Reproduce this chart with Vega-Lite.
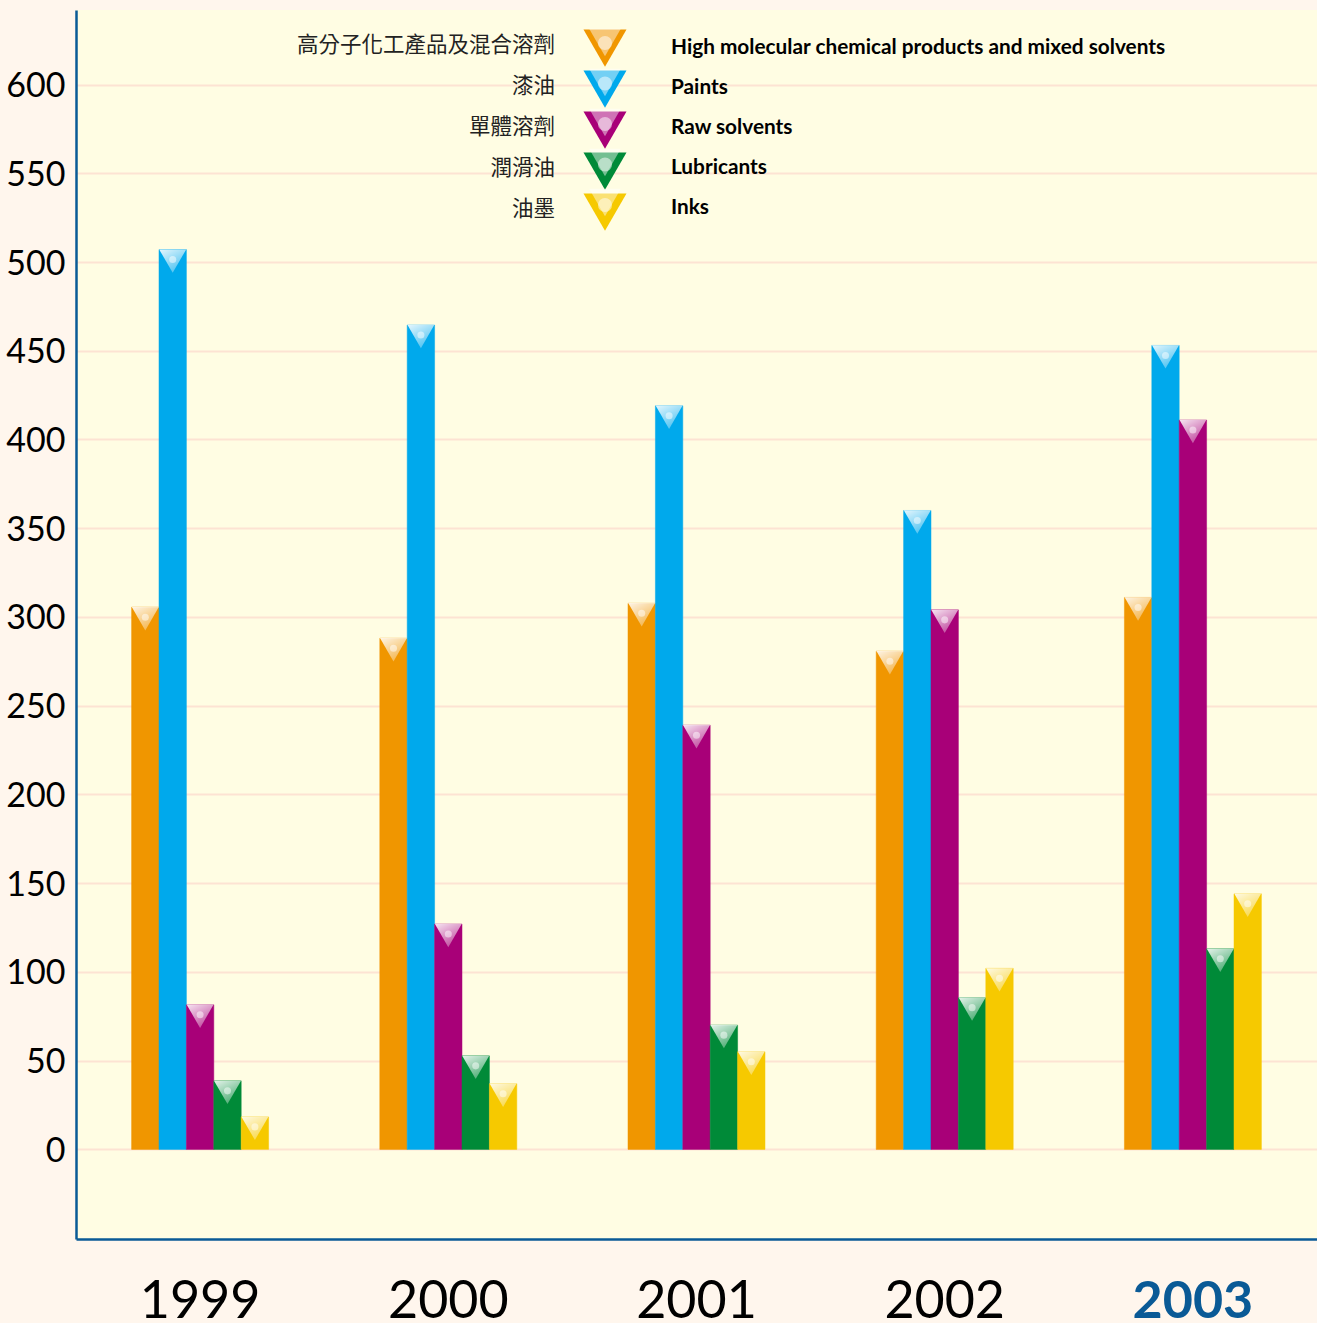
{
"$schema":"https://vega.github.io/schema/vega-lite/v6.json",
"width":1241,"height":1229,
"autosize":{"type":"none"},
"padding":{"left":76,"top":10,"right":0,"bottom":84},
"background":"#fff6ed",
"view":{"fill":"#fffde3","stroke":null},
"data":{"values":[
{"year":"1999","cn":"高分子化工產品及混合溶劑","en":"High molecular chemical products and mixed solvents","value":305.5},
{"year":"1999","cn":"漆油","en":"Paints","value":507},
{"year":"1999","cn":"單體溶劑","en":"Raw solvents","value":81.5},
{"year":"1999","cn":"潤滑油","en":"Lubricants","value":38.6},
{"year":"1999","cn":"油墨","en":"Inks","value":18.3},
{"year":"2000","cn":"高分子化工產品及混合溶劑","en":"High molecular chemical products and mixed solvents","value":288},
{"year":"2000","cn":"漆油","en":"Paints","value":464.5},
{"year":"2000","cn":"單體溶劑","en":"Raw solvents","value":127},
{"year":"2000","cn":"潤滑油","en":"Lubricants","value":52.7},
{"year":"2000","cn":"油墨","en":"Inks","value":37},
{"year":"2001","cn":"高分子化工產品及混合溶劑","en":"High molecular chemical products and mixed solvents","value":307.7},
{"year":"2001","cn":"漆油","en":"Paints","value":419},
{"year":"2001","cn":"單體溶劑","en":"Raw solvents","value":239},
{"year":"2001","cn":"潤滑油","en":"Lubricants","value":70},
{"year":"2001","cn":"油墨","en":"Inks","value":55},
{"year":"2002","cn":"高分子化工產品及混合溶劑","en":"High molecular chemical products and mixed solvents","value":280.7},
{"year":"2002","cn":"漆油","en":"Paints","value":360},
{"year":"2002","cn":"單體溶劑","en":"Raw solvents","value":304},
{"year":"2002","cn":"潤滑油","en":"Lubricants","value":85.5},
{"year":"2002","cn":"油墨","en":"Inks","value":102},
{"year":"2003","cn":"高分子化工產品及混合溶劑","en":"High molecular chemical products and mixed solvents","value":311},
{"year":"2003","cn":"漆油","en":"Paints","value":453},
{"year":"2003","cn":"單體溶劑","en":"Raw solvents","value":411},
{"year":"2003","cn":"潤滑油","en":"Lubricants","value":113},
{"year":"2003","cn":"油墨","en":"Inks","value":144}
]},
"encoding":{
"x":{"field":"year","type":"ordinal","title":null,
 "scale":{"paddingInner":0.448,"paddingOuter":0.224},
 "axis":{"labelAngle":0,"ticks":false,"grid":false,"domainColor":"#0a5a96","domainWidth":2.5,"labelFont":"Lato","labelFontSize":52,"labelPadding":37,"labelColor":{"expr":"datum.value=='2003'?'#0a5a96':'#000000'"},"labelFontWeight":{"expr":"datum.value=='2003'?'bold':'normal'"}}},
"xOffset":{"field":"en","type":"nominal","sort":["High molecular chemical products and mixed solvents","Paints","Raw solvents","Lubricants","Inks"],"scale":{"paddingInner":0,"paddingOuter":0}},
"y":{"field":"value","type":"quantitative","title":null,
 "scale":{"domain":[-50.5,642],"nice":false,"zero":false},
 "axis":{"values":[0,50,100,150,200,250,300,350,400,450,500,550,600],"ticks":false,"grid":true,"gridColor":"#fde3d3","gridWidth":2,"domainColor":"#0a5a96","domainWidth":2.5,"labelFont":"Lato","labelFontSize":34,"labelColor":"#000000","labelPadding":11,"labelOffset":2}}
},
"layer":[
{"mark":{"type":"bar","strokeWidth":0.5},
 "encoding":{
 "y2":{"datum":0},
 "color":{"field":"cn","type":"nominal",
  "scale":{"domain":["高分子化工產品及混合溶劑","漆油","單體溶劑","潤滑油","油墨"],"range":["#f09600","#00a9ec","#a80078","#008a38","#f6c900"]},
  "legend":{"title":null,"orient":"none","legendX":507,"legendY":16,"symbolType":"triangle-down","symbolSize":1850,"symbolStrokeWidth":0,"rowPadding":-3.5,"labelFont":"Noto Sans CJK TC","labelFontSize":21.5,"labelAlign":"right","labelColor":"#222222","labelOffset":-72,"labelLimit":400,
   "encode":{"labels":{"update":{"dy":{"value":-2}}}}}},
 "stroke":{"field":"en","type":"nominal",
  "scale":{"domain":["High molecular chemical products and mixed solvents","Paints","Raw solvents","Lubricants","Inks"],"range":["#f09600","#00a9ec","#a80078","#008a38","#f6c900"]},
  "legend":{"title":null,"orient":"none","legendX":513,"legendY":16.5,"symbolType":"triangle-down","symbolSize":1000,"symbolStrokeWidth":0,"symbolFillColor":"#ffffff","symbolOpacity":0.45,"rowPadding":9,"labelFont":"Lato","labelFontSize":20.8,"labelFontWeight":"bold","labelColor":"#000000","labelOffset":50,"labelLimit":700,
   "encode":{"labels":{"update":{"dy":{"value":5}}}}}}
 }},
{"mark":{"type":"point","shape":"triangle-down","filled":true,"size":730,"opacity":1,"yOffset":11.5,
 "fill":{"gradient":"linear","x1":0,"y1":0,"x2":0.6,"y2":1,"stops":[{"offset":0,"color":"rgba(255,255,255,0.9)"},{"offset":1,"color":"rgba(255,255,255,0.3)"}]}}},
{"mark":{"type":"point","shape":"circle","filled":true,"size":50,"opacity":0.5,"yOffset":10},
 "encoding":{"fill":{"field":"cn","type":"nominal",
  "scale":{"range":["#ffffff","#ffffff","#ffffff","#ffffff","#ffffff"]},
  "legend":{"title":null,"orient":"none","legendX":521.5,"legendY":25.5,"symbolType":"circle","symbolSize":200,"symbolStrokeWidth":0,"rowPadding":25.5,"labelExpr":"''","labelFontSize":1}}}}
]
}
